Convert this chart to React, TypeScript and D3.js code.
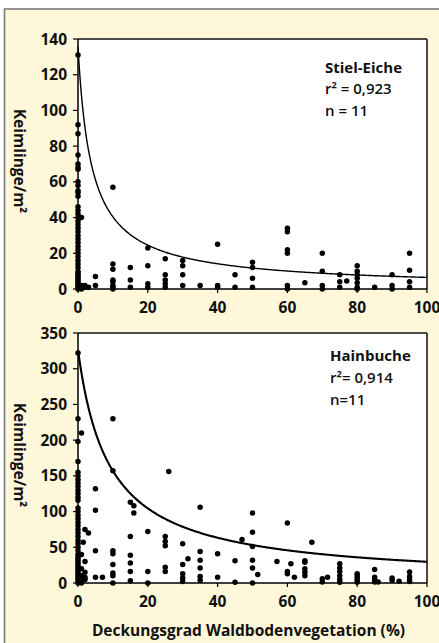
import React from "react";
import * as d3 from "d3";

// ---- Data ----
const coverTicks = [0, 20, 40, 60, 80, 100];
const eicheYTicks = [0, 20, 40, 60, 80, 100, 120, 140];
const hainYTicks = [0, 50, 100, 150, 200, 250, 300, 350];

// Stiel-Eiche: cover levels (%) and seedlings/m² observed at each level
const eicheCover = [0, 1, 2, 3, 5, 10, 15, 20, 25, 30, 35, 40, 45, 50, 60, 65, 70, 75, 77, 80, 85, 90, 95];
const eicheSeedlings = [
  [0, 1, 2, 3, 4, 5, 6, 7, 8, 9, 10, 12, 14, 16, 18, 20, 22, 24, 26, 28, 30, 32, 34, 36, 38, 40, 42, 44, 46, 52, 54, 55, 58, 60, 67, 68, 70, 75, 87, 92, 131],
  [40, 2, 1, 0],
  [1, 2],
  [1],
  [7, 2],
  [57, 14, 11, 5, 4, 2, 1, 0],
  [12, 5, 1],
  [23, 13, 3, 1],
  [17, 8, 5, 3, 1],
  [16, 13, 8, 2],
  [2],
  [25, 2, 1],
  [8, 1],
  [15, 12, 6, 1],
  [34, 32, 22, 20, 2, 0],
  [3.5],
  [20, 10, 2, 0],
  [8, 4, 1],
  [4.5],
  [13, 10, 8, 6, 3.5, 1, 0],
  [1],
  [8, 2, 0],
  [20, 10.5, 4, 1],
];

// Hainbuche
const hainCover = [0, 1, 1.5, 2, 3, 5, 7, 10, 15, 16, 20, 25, 26, 30, 31.5, 35, 40, 45, 47, 50, 51.5, 57, 60, 61, 62, 65, 67, 70, 71.5, 75, 80, 85, 86, 90, 92, 95];
const hainSeedlings = [
  [0, 3, 6, 9, 12, 15, 18, 21, 24, 27, 30, 33, 36, 40, 45, 50, 55, 60, 65, 70, 75, 80, 85, 90, 95, 100, 105, 116, 120, 125, 130, 135, 140, 145, 150, 155, 170, 198, 230, 322],
  [210, 40, 20, 10, 3, 0],
  [57],
  [75, 30, 15, 8, 5],
  [70],
  [132, 102, 45, 8],
  [8],
  [230, 157, 45, 41, 26, 14, 10, 0],
  [113, 65, 39, 28, 16, 3],
  [98, 108],
  [72, 16, 0],
  [65, 58, 52, 22, 16],
  [156],
  [55, 26, 13, 7, 2],
  [34],
  [106, 44, 32, 21, 9, 4],
  [41, 8],
  [31, 1],
  [61],
  [98, 71, 51, 32, 21, 0],
  [12],
  [30],
  [84, 16, 13],
  [27],
  [8],
  [31, 29, 20, 15, 10],
  [57],
  [6, 1.5],
  [8],
  [27, 21, 16, 10, 5, 1],
  [13, 10, 7, 4, 1],
  [19, 8, 4, 1.5],
  [1.5],
  [7, 4],
  [2.5],
  [15.5, 9, 5, 2],
];

// Fitted curves y = a * (x + c)^b (parameters)
const eicheFit = [418, 3.5, -0.898];
const hainFit = [2444, 8.5, -0.941];

const eicheLabels = ["Stiel-Eiche", "r² = 0,923", "n = 11"];
const hainLabels = ["Hainbuche", "r²= 0,914", "n=11"];

const FONT = "'Open Sans', 'DejaVu Sans', sans-serif";

type PanelProps = {
  top: number;
  bottom: number;
  yMax: number;
  yTicks: number[];
  cover: number[];
  seedlings: number[][];
  fit: number[];
  labels: string[];
  labelYs: number[];
  labelX: number;
  curveWidth: number;
};

const X0 = 78;
const X1 = 427;

function Panel(p: PanelProps) {
  const x = d3.scaleLinear().domain([0, 100]).range([X0, X1]);
  const y = d3.scaleLinear().domain([0, p.yMax]).range([p.bottom, p.top]);
  const pts: [number, number][] = [];
  p.cover.forEach((c, i) => p.seedlings[i].forEach((v) => pts.push([c, v])));
  const [a, c, b] = p.fit;
  const curveData = d3.range(0, 100.01, 0.25).map((t) => [t, a * Math.pow(t + c, b)] as [number, number]);
  const line = d3
    .line<[number, number]>()
    .x((d) => x(d[0]))
    .y((d) => y(Math.min(d[1], p.yMax)))
    .curve(d3.curveLinear);
  return (
    <g>
      <rect x={X0} y={p.top} width={X1 - X0} height={p.bottom - p.top} fill="#ffffff" />
      {/* frame */}
      <line x1={X0} x2={X1} y1={p.top} y2={p.top} stroke="#111" strokeWidth={1.3} />
      <line x1={X1} x2={X1} y1={p.top} y2={p.bottom} stroke="#333" strokeWidth={1.8} />
      {/* points */}
      {pts.map((d, i) => (
        <circle key={i} cx={x(d[0])} cy={y(d[1])} r={2.75} fill="#000" />
      ))}
      <path d={line(curveData) || ""} fill="none" stroke="#000" strokeWidth={p.curveWidth} />
      {/* axes */}
      <line x1={X0} x2={X0} y1={p.top} y2={p.bottom} stroke="#000" strokeWidth={1.5} />
      <line x1={X0} x2={X1} y1={p.bottom} y2={p.bottom} stroke="#000" strokeWidth={1.5} />
      {p.yTicks.map((t) => (
        <g key={"y" + t}>
          <line x1={X0 - 5} x2={X0} y1={y(t)} y2={y(t)} stroke="#000" strokeWidth={1.2} />
          <text x={X0 - 11} y={y(t)} dy="0.36em" textAnchor="end" fontFamily={FONT} fontWeight={700} fontSize={15.5} fill="#111">
            {t}
          </text>
        </g>
      ))}
      {coverTicks.map((t) => (
        <g key={"x" + t}>
          <line x1={x(t)} x2={x(t)} y1={p.bottom} y2={p.bottom + 4} stroke="#000" strokeWidth={1.2} />
          <text x={x(t)} y={p.bottom + 24} textAnchor="middle" fontFamily={FONT} fontWeight={700} fontSize={15.5} fill="#111">
            {t}
          </text>
        </g>
      ))}
      {p.labels.map((s, i) => (
        <text key={s} x={p.labelX} y={p.labelYs[i]} fontFamily={FONT} fontWeight={i === 0 ? 700 : 600} fontSize={15} fill="#111">
          {s}
        </text>
      ))}
      <text
        transform={`translate(14, ${(p.top + p.bottom) / 2 - 3}) rotate(90)`}
        textAnchor="middle"
        fontFamily={FONT}
        fontWeight={700}
        fontSize={15.5}
        fill="#111"
      >
        Keimlinge/m²
      </text>
    </g>
  );
}

export default function App() {
  return (
    <svg width={439} height={643} style={{ position: "absolute", left: 0, top: 0 }}>
      <rect x={0} y={0} width={439} height={643} fill="#ffffff" />
      <rect x={4.5} y={9} width={450} height={650} fill="#FEF7DA" stroke="#7a7a7a" strokeWidth={1.6} />
      <Panel
        top={39}
        bottom={289}
        yMax={140}
        yTicks={eicheYTicks}
        cover={eicheCover}
        seedlings={eicheSeedlings}
        fit={eicheFit}
        labels={eicheLabels}
        labelYs={[73, 94, 116]}
        labelX={325}
        curveWidth={1.4}
      />
      <Panel
        top={333}
        bottom={583}
        yMax={350}
        yTicks={hainYTicks}
        cover={hainCover}
        seedlings={hainSeedlings}
        fit={hainFit}
        labels={hainLabels}
        labelYs={[361, 383, 405]}
        labelX={330}
        curveWidth={2.1}
      />
      <text x={(X0 + X1) / 2 - 4} y={636} textAnchor="middle" fontFamily={FONT} fontWeight={700} fontSize={15.5} fill="#111">
        Deckungsgrad Waldbodenvegetation (%)
      </text>
    </svg>
  );
}
